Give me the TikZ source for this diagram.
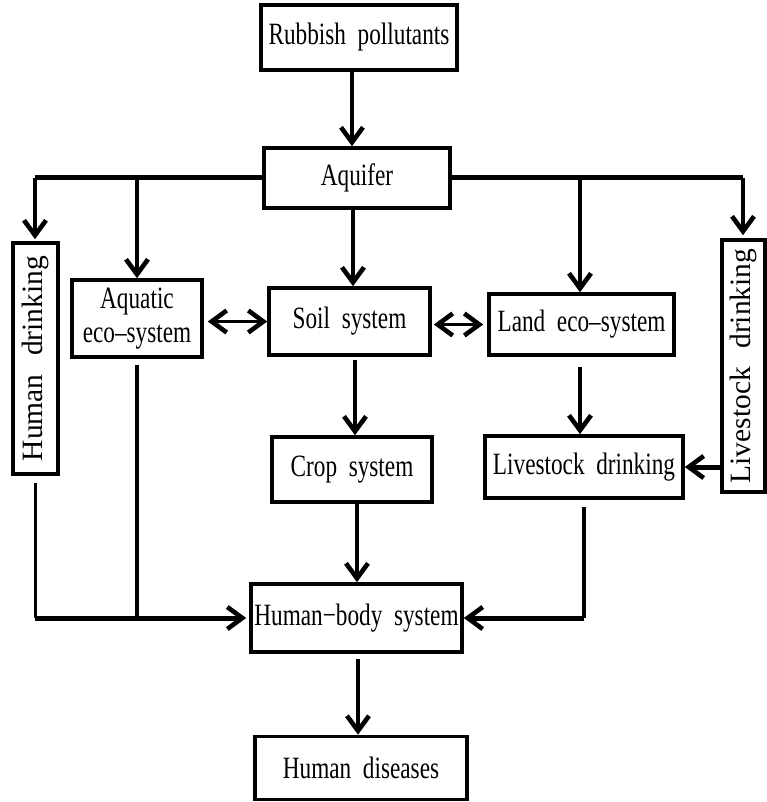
\documentclass[tikz,border=0pt]{standalone}
\usepackage{graphicx}
\usepackage{fontspec}
\setmainfont{Liberation Serif}[FakeStretch=0.75,WordSpace=2]
\newfontfamily\vertfont{Liberation Serif}[WordSpace=2.5]
\usetikzlibrary{arrows.meta}
\begin{document}
\begin{tikzpicture}[x=1pt,y=-1pt,
  box/.style={draw, line width=3.6pt, inner sep=0pt, align=center, font=\fontsize{31}{34}\selectfont},
  con/.style={line width=3.8pt},
  hcon/.style={line width=5pt},
  tip/.tip={Straight Barb[length=15pt,width=22pt,line width=4.6pt]},
  arr/.style={con, -tip},
  harr/.style={hcon, -tip},
  darr/.style={con, tip-tip},
]
\useasboundingbox (0,0) rectangle (767,802);

% nodes
\node[box, minimum width=196pt, minimum height=65pt] (rub) at (359,37.5) {Rubbish pollutants};
\node[box, minimum width=186pt, minimum height=60pt] (aq) at (357,178) {Aquifer};
\node[box, minimum width=45pt, minimum height=231pt] (hd) at (35.5,358.5) {\rotatebox{90}{\vertfont\fontsize{29.5}{33}\selectfont Human drinking}};
\node[box, minimum width=130pt, minimum height=77pt] (aqe) at (137,318.5) {Aquatic\\eco--system};
\node[box, minimum width=161pt, minimum height=67pt] (soil) at (349.5,321.5) {Soil system};
\node[box, minimum width=185pt, minimum height=61pt] (land) at (581.5,324.5) {Land eco--system};
\node[box, minimum width=43pt, minimum height=252pt] (ld) at (743.5,366) {\rotatebox{90}{\vertfont\fontsize{29.5}{33}\selectfont Livestock drinking}};
\node[box, minimum width=160pt, minimum height=65pt] (crop) at (352,469.5) {Crop system};
\node[box, minimum width=198pt, minimum height=62pt] (lh) at (584,467) {Livestock drinking};
\node[box, minimum width=211pt, minimum height=68pt] (hb) at (356.5,618) {Human\char"2212 body system};
\node[box, minimum width=212pt, minimum height=63pt] (dis) at (361,768) {Human diseases};

% column helpers
\coordinate (c1) at (35,0);
\coordinate (c2) at (137,0);
\coordinate (c3) at (352,0);
\coordinate (c4) at (353,0);
\coordinate (c4b) at (355,0);
\coordinate (c4c) at (357,0);
\coordinate (c4d) at (358,0);
\coordinate (c5) at (580,0);
\coordinate (c6) at (743,0);
\coordinate (c7) at (584,0);

% connectors
\draw[arr] (c3 |- rub.south) -- (c3 |- aq.north);
\draw[hcon] (aq.west) -- (c1 |- aq.west);
\draw[arr, shorten >=2pt] (c1 |- aq.west) -- (c1 |- hd.north);
\draw[arr] (c2 |- aq.west) -- (c2 |- aqe.north);
\draw[arr] (c4 |- aq.south) -- (c4 |- soil.north);
\draw[hcon] (aq.east) -- (c6 |- aq.east);
\draw[arr, shorten >=3pt] (c6 |- aq.east) -- (c6 |- ld.north);
\draw[arr] (c5 |- aq.east) -- (c5 |- land.north);
\draw[darr, shorten <=4pt] (aqe.east |- soil.west) -- (soil.west);
\draw[darr, shorten <=2pt, shorten >=4pt] (soil.east |- land.west) -- (land.west);
\draw[arr, shorten <=3pt] (c4b |- soil.south) -- (c4b |- crop.north);
\draw[arr, shorten <=10pt] (c5 |- land.south) -- (c5 |- lh.north);
\draw[harr] (ld.west |- lh.east) -- (lh.east);
\draw[arr] (c4c |- crop.south) -- (c4c |- hb.north);
\draw[con, shorten <=7pt] (hd.south) -- (hd.south |- hb.west);
\draw[harr, shorten >=3pt] (c1 |- hb.west) -- (hb.west);
\draw[con, shorten <=6pt] (aqe.south) -- (aqe.south |- hb.west);
\draw[con, shorten <=7pt] (c7 |- lh.south) -- (c7 |- hb.east);
\draw[harr] (c7 |- hb.east) -- (hb.east);
\draw[arr, shorten <=5pt] (c4d |- hb.south) -- (c4d |- dis.north);
\end{tikzpicture}
\end{document}
